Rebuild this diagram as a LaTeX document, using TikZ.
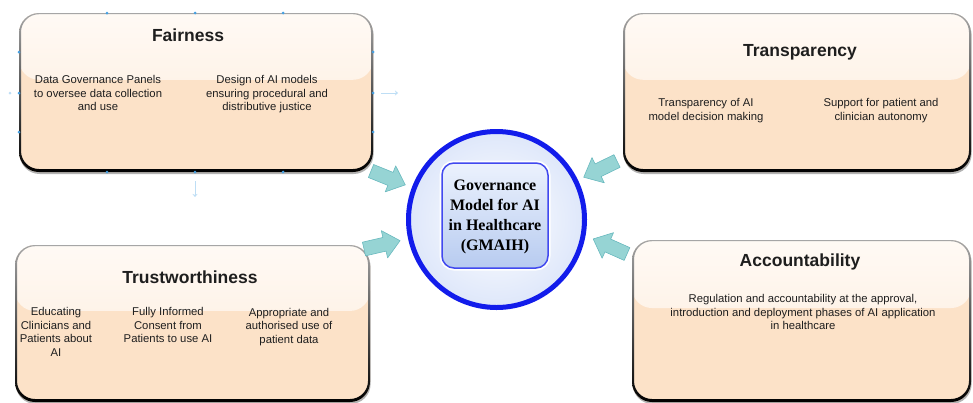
\documentclass[tikz,border=0pt]{standalone}
\usepackage{fontspec}
\setmainfont{Liberation Sans}
\newfontfamily\govserif{Liberation Serif}
\usetikzlibrary{calc,shadows,arrows.meta}

\definecolor{peach}{RGB}{252,226,200}
\definecolor{peachtop}{RGB}{255,250,245}
\definecolor{peachmid}{RGB}{253,234,216}
\definecolor{arrowfill}{RGB}{150,212,212}
\definecolor{arrowline}{RGB}{105,185,190}
\definecolor{ringblue}{RGB}{18,28,235}
\definecolor{discfill}{RGB}{222,231,250}
\definecolor{govtop}{RGB}{236,242,253}
\definecolor{govbot}{RGB}{183,203,240}
\definecolor{handle}{RGB}{70,160,225}
\definecolor{handlefaint}{RGB}{190,222,245}
\definecolor{ink}{RGB}{30,30,30}

% bevelled border drawn round a box node: grey at the top, black at the bottom
\newcommand\bevelring[1]{%
  \shade[top color=black!35, bottom color=black, even odd rule]
    [rounded corners=20pt] (#1.north west) rectangle (#1.south east)
    [rounded corners=18pt] ($(#1.north west)+(2,1.2)$) rectangle ($(#1.south east)+(-2,-3)$);}

\begin{document}
\begin{tikzpicture}[x=1pt,y=-1pt,
  gbox/.style={rectangle, rounded corners=20pt, outer sep=0pt, inner sep=0pt,
    fill=peach,
    drop shadow={shadow xshift=0.6pt, shadow yshift=-2pt, opacity=0.3, fill=black},
    path picture={\shade[top color=peachtop, bottom color=peachmid]
      (path picture bounding box.north west) rectangle
      ($(path picture bounding box.north east)!0.42!(path picture bounding box.south east)$);}},
  title/.style={font=\bfseries\fontsize{17.5}{20}\selectfont, text=ink, inner sep=0pt},
  body/.style={font=\fontsize{11.3}{13.4}\selectfont, text=ink, align=center, inner sep=0pt, anchor=north},
  flowarrow/.pic={\draw[fill=arrowfill, draw=arrowline, line width=0.6pt, line join=round]
    (0,-7) -- (21,-7) -- (21,-14) -- (37,0) -- (21,14) -- (21,7) -- (0,7) -- cycle;},
  hdot/.style={circle, fill=handle, inner sep=0pt, minimum size=3pt},
  faint/.style={draw=handlefaint, line width=1pt, -{Stealth[length=3pt,width=5pt]}}
]
\useasboundingbox (0,0) rectangle (973,402);
\clip (0,0) rectangle (973,402);

% ---- the four principle boxes ----
\node[gbox, minimum width=354pt, minimum height=159pt] (fair) at (196,92.5) {};
\bevelring{fair}
\node[gbox, minimum width=348pt, minimum height=159pt] (transp) at (797,92.5) {};
\bevelring{transp}
\node[gbox, minimum width=355pt, minimum height=157pt] (trust) at (192.5,323.5) {};
\bevelring{trust}
\node[gbox, minimum width=339pt, minimum height=162pt] (account) at (801.5,321) {};
\bevelring{account}

% selection handles on the Fairness box
\foreach \hx in {107,195,283} {
  \node[hdot] at (\hx,13) {};
  \node[hdot] at (\hx,172) {};
}
\foreach \hy in {52,93,132} {
  \node[hdot] at (19,\hy) {};
  \node[hdot] at (373,\hy) {};
}
\node[circle, fill=handlefaint, inner sep=0pt, minimum size=3pt] (hleft) at (10,93) {};
\coordinate (hr1) at (381,93);
\coordinate (hr2) at (398,93);
\draw[faint] (hr1) -- (hr2);
\coordinate (hb1) at (195,181);
\coordinate (hb2) at (195,197);
\draw[faint] (hb1) -- (hb2);

% ---- box texts ----
\node[title] (fairT) at (188,35) {Fairness};
\node[body] (fair1) at (98,75.5) {Data Governance Panels\\to oversee data collection\\and use};
\node[body] (fair2) at (267,75.5) {Design of AI models\\ensuring procedural and\\distributive justice};

\node[title] (transpT) at (800,52) {Transparency};
\node[body] (transp1) at (706,98.5) {Transparency of AI\\model decision making};
\node[body] (transp2) at (881,98.5) {Support for patient and\\clinician autonomy};

\node[title] (trustT) at (190,277) {Trustworthiness};
\node[body] (trust1) at (56,307.5) {Educating\\Clinicians and\\Patients about\\AI};
\node[body] (trust2) at (168,307.5) {Fully Informed\\Consent from\\Patients to use AI};
\node[body] (trust3) at (289,308) {Appropriate and\\authorised use of\\patient data};

\node[title] (accountT) at (800,262) {Accountability};
\node[body] (account1) at (803,294.5) {Regulation and accountability at the approval,\\introduction and deployment phases of AI application\\in healthcare};

% ---- central governance model ----
\node[circle, minimum size=176pt, draw=ringblue, line width=5pt,
      inner color=white, outer color=discfill] (gov) at (496.5,219.5) {};
\node[rectangle, rounded corners=12pt, minimum width=106pt, minimum height=105pt,
      draw=ringblue!80!white, line width=1.5pt, top color=govtop, bottom color=govbot,
      preaction={draw=white, line width=5pt}]
      (govbox) at (495,215.5) {};
\node[font=\govserif\bfseries\fontsize{16}{20}\selectfont, align=center, inner sep=0pt, text=black]
      (govtext) at (495,217) {Governance\\Model for AI\\in Healthcare\\(GMAIH)};

% ---- block arrows pointing into the model ----
\pic[rotate=-22] (inTL) at (371,171) {flowarrow};
\pic[rotate=13]  (inBL) at (364,249) {flowarrow};
\pic[rotate=-154] (inTR) at (617,161) {flowarrow};
\pic[rotate=156] (inBR) at (627,254) {flowarrow};
\end{tikzpicture}
\end{document}
